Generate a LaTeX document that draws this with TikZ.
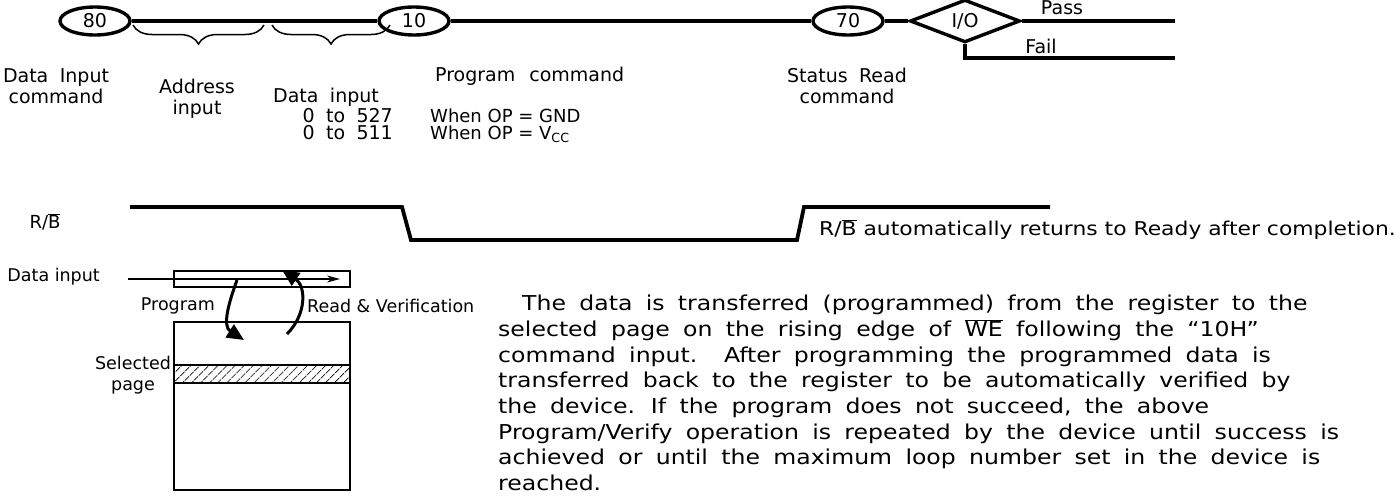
\documentclass[tikz,border=0pt]{standalone}
\usepackage{fontspec}
\setmainfont{DejaVu Sans}
\newfontfamily\parafont{DejaVu Sans}[FakeStretch=1.15]
\usetikzlibrary{shapes.geometric,patterns.meta,arrows.meta,decorations.pathreplacing}
\newcommand\ovl[1]{$\overline{\mbox{#1}}$}
\newcommand\widesp[1]{\spaceskip=#1em\relax}
\begin{document}
\begin{tikzpicture}[x=1pt,y=-1pt,
  font=\fontsize{17.5}{21}\selectfont,
  toplbl/.style={inner sep=0pt, align=center, font=\fontsize{19}{21}\selectfont, execute at begin node={\widesp{0.6}}},
  cmd/.style={ellipse, draw, line width=3.4pt, minimum width=70pt, minimum height=28pt, inner sep=0pt, font=\fontsize{19}{21}\selectfont},
  dia/.style={diamond, draw, line width=3.4pt, minimum width=110pt, minimum height=38pt, inner sep=0pt, font=\fontsize{19}{21}\selectfont},
  sig/.style={line width=3.8pt},
  box/.style={draw, line width=1.6pt},
  lbl/.style={inner sep=0pt, align=center},
  brc/.style={decorate, decoration={brace, mirror, amplitude=19pt}, line width=1.5pt},
  flow/.style={line width=3pt, -{Triangle[length=17pt,width=15pt]}},
  para/.style={inner sep=0pt, align=left, font=\parafont\fontsize{20.5}{25.7}\selectfont, execute at begin node={\widesp{0.65}}},
  note/.style={inner sep=0pt, font=\parafont\fontsize{19}{25.7}\selectfont}]
\useasboundingbox (0,0) rectangle (1400,496);
% command sequence
\node[cmd] (e80) at (95,21) {80};
\node[cmd] (e10) at (414,21) {10};
\node[cmd] (e70) at (848,21) {70};
\node[dia] (io) at (965,21) {I/O};
\coordinate (passend) at (1175,21);
\coordinate (failend) at (1175,58);
\draw[sig] (e80) -- (e10) -- (e70) -- (io) -- (passend);
\draw[sig] (io.south) |- (failend);
\node[toplbl, anchor=base] (pass) at (1062,14) {Pass};
\node[toplbl, anchor=base] (fail) at (1041,53) {Fail};
% braces
\coordinate (b1a) at (133,25);
\coordinate (b1b) at (264,25);
\coordinate (b2a) at (272,25);
\coordinate (b2b) at (390,25);
\draw[brc] (b1a) -- (b1b);
\draw[brc] (b2a) -- (b2b);
% labels
\node[toplbl] (l80) at (56,86) {Data Input\\command};
\node[toplbl] (laddr) at (197,99) {Address\\input};
\node[toplbl, anchor=base west] (ldata) at (273,102) {Data input};
\node[toplbl, anchor=base east] (l527) at (393,122) {0 to 527};
\node[toplbl, anchor=base east] (l511) at (393,139) {0 to 511};
\node[lbl, anchor=base west, font=\fontsize{18}{21}\selectfont] (lgnd) at (430,122) {When OP = GND};
\node[lbl, anchor=base west, font=\fontsize{18}{21}\selectfont] (lvcc) at (430,139) {When OP = V\textsubscript{CC}};
\node[toplbl, anchor=base west] (l10) at (435,81) {Program\hspace{14pt}command};
\node[toplbl] (l70) at (847,86) {Status Read\\command};
% R/B signal
\node[lbl, font=\fontsize{18}{21}\selectfont] (rb) at (45,222) {R/\ovl{B}};
\coordinate (r0) at (130,207);
\coordinate (r1) at (402,207);
\coordinate (r2) at (411,240);
\coordinate (r3) at (797,240);
\coordinate (r4) at (804,207);
\coordinate (r5) at (1050,207);
\draw[sig] (r0) -- (r1) -- (r2) -- (r3) -- (r4) -- (r5);
\node[note, anchor=base east] (rbtxt) at (1396,235) {R/\ovl{B} automatically returns to Ready after completion.};
% register / memory
\node[box, minimum width=176pt, minimum height=16pt, inner sep=0pt] (reg) at (262,279) {};
\node[lbl, anchor=east] (din) at (100,277) {Data input};
\coordinate (dinend) at (340,279);
\draw[line width=1.4pt, -{Stealth[length=13pt,width=7pt]}] (din.east) ++(28,2) coordinate (dinstart) -- (dinend);
\node[box, minimum width=176pt, minimum height=168pt, inner sep=0pt] (mem) at (262,406) {};
\fill[pattern={Lines[angle=45,distance=6.5pt,line width=1pt]}] (174,365) rectangle (350,383);
\draw[line width=1.5pt] (174,365) -- (350,365) (174,383) -- (350,383);
\node[lbl] (sel) at (133,375) {Selected\\page};
\node[lbl, anchor=east] (prog) at (215,306) {Program};
\node[lbl, anchor=west] (rv) at (307,306) {Read \& Verification};
\coordinate (p0) at (237,280);
\coordinate (p1) at (244,340);
\draw[flow] (p0) .. controls (229,302) and (222,326) .. (p1);
\coordinate (q0) at (287,334);
\coordinate (q1) at (282,270);
\draw[flow] (q0) .. controls (307,314) and (306,286) .. (q1);
% paragraph
\node[para, anchor=north west] (txt) at (498,295) {%
\hspace*{24pt}The data is transferred (programmed) from the register to the\\
selected page on the rising edge of \ovl{WE} following the “10H”\\
command input.\ \ After programming the programmed data is\\
transferred back to the register to be automatically verified by\\
the device. If the program does not succeed, the above\\
Program/Verify operation is repeated by the device until success is\\
achieved or until the maximum loop number set in the device is\\
reached.};
\end{tikzpicture}
\end{document}
